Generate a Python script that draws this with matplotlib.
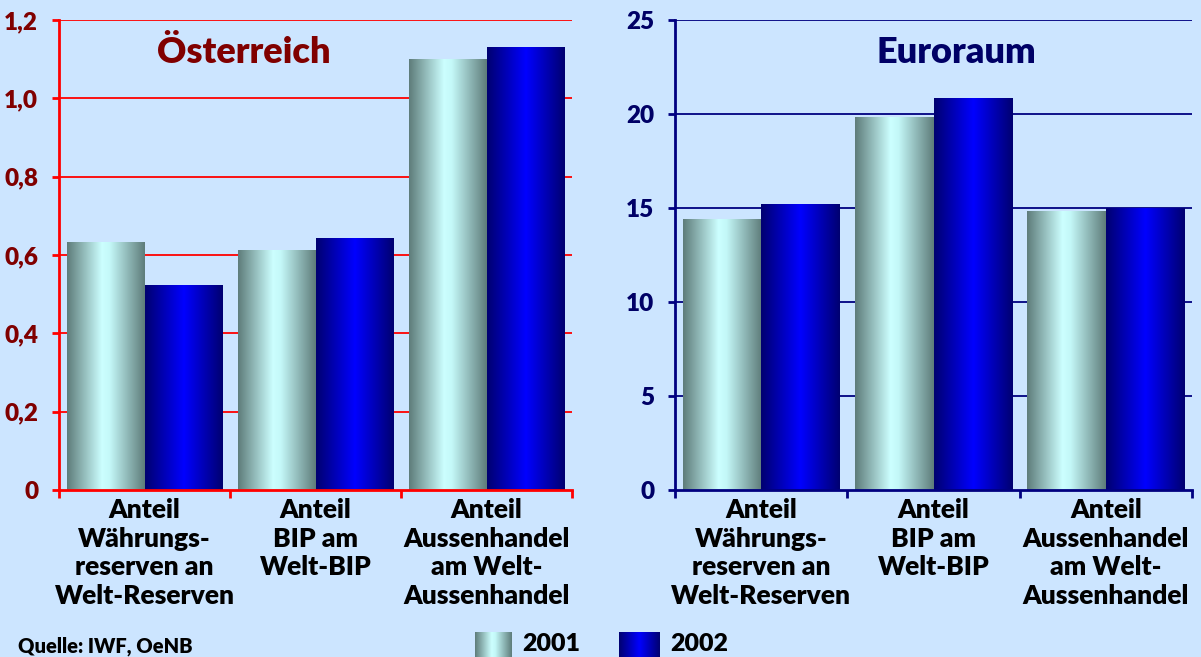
import numpy as np
import matplotlib
matplotlib.use("Agg")
import matplotlib.pyplot as plt
from matplotlib.colors import LinearSegmentedColormap

# ---- data ----
categories = ["Anteil\nWährungs-\nreserven an\nWelt-Reserven",
              "Anteil\nBIP am\nWelt-BIP",
              "Anteil\nAussenhandel\nam Welt-\nAussenhandel"]
series = ["2001", "2002"]
at_2001 = [0.633, 0.612, 1.100]
at_2002 = [0.521, 0.641, 1.131]
ez_2001 = [14.4, 19.8, 14.8]
ez_2002 = [15.2, 20.8, 15.0]
at_ticks = [0, 0.2, 0.4, 0.6, 0.8, 1.0, 1.2]
at_ticklabels = ["0", "0,2", "0,4", "0,6", "0,8", "1,0", "1,2"]
ez_ticks = [0, 5, 10, 15, 20, 25]
ez_ticklabels = ["0", "5", "10", "15", "20", "25"]
source = "Quelle: IWF, OeNB"

BG = "#CCE5FF"
FONT = "Lato"
W = "heavy"
cm_2001 = LinearSegmentedColormap.from_list(
    "c01", [(0, "#5E7C7A"), (0.45, "#CCFFFF"), (0.55, "#C4F8F8"), (1, "#5E7C7A")])
cm_2002 = LinearSegmentedColormap.from_list(
    "c02", [(0, "#000070"), (0.5, "#0000FF"), (1, "#000070")])
grad = np.linspace(0, 1, 256).reshape(1, -1)

fig = plt.figure(figsize=(12.01, 6.57), dpi=100, facecolor=BG)


def panel(rect, v1, v2, ymax, ticks, ticklabels, title, tcolor, gcolor):
    ax = fig.add_axes(rect)
    ax.set_facecolor(BG)
    x = np.arange(len(categories))
    w = 0.456
    b1 = ax.bar(x - w / 2, v1, w, color="none", zorder=3)
    b2 = ax.bar(x + w / 2, v2, w, color="none", zorder=3)
    for bars, cm in ((b1, cm_2001), (b2, cm_2002)):
        for r in bars:
            x0, y0 = r.get_x(), r.get_y()
            ax.imshow(grad, cmap=cm, aspect="auto", zorder=3,
                      extent=(x0, x0 + r.get_width(), y0, y0 + r.get_height()))
    ax.set_xlim(-0.5, len(categories) - 0.5)
    ax.set_ylim(0, ymax)
    ax.set_yticks(ticks)
    ax.set_yticklabels(ticklabels, fontfamily=FONT, fontweight=W,
                       fontsize=17.5, color=tcolor)
    ax.set_xticks(x)
    ax.set_xticklabels(categories, fontfamily=FONT, fontweight=W,
                       fontsize=19, color="black", linespacing=1.22,
                       va="top")
    ax.set_xticks(np.arange(-0.5, len(categories)), minor=True)
    ax.tick_params(axis="x", which="major", length=0, pad=6)
    ax.tick_params(axis="x", which="minor", length=6, width=2, color=gcolor,
                   direction="out")
    ax.tick_params(axis="y", length=5, width=2, color=gcolor, pad=10)
    for t in ticks[1:]:
        ax.axhline(t, color=gcolor, lw=1.3, zorder=1)
    for s in ("top", "right"):
        ax.spines[s].set_visible(False)
    for s in ("left", "bottom"):
        ax.spines[s].set_color(gcolor)
        ax.spines[s].set_linewidth(2)
        ax.spines[s].set_zorder(4)
    ax.text(*title[1], title[0], transform=ax.transAxes, ha="center",
            va="center", fontfamily=FONT, fontweight=W, fontsize=26,
            color=tcolor)
    return ax


panel([59 / 1201, 1 - 490 / 657, 513 / 1201, 470 / 657], at_2001, at_2002,
      1.2, at_ticks, at_ticklabels, ("Österreich", (0.36, 0.93)),
      "#800000", "#FF0000")
panel([675 / 1201, 1 - 490 / 657, 517 / 1201, 470 / 657], ez_2001, ez_2002,
      25, ez_ticks, ez_ticklabels, ("Euroraum", (0.545, 0.93)),
      "#000066", "#000080")

# legend
for (x0, x1), cm, lab, tx in (((475, 512), cm_2001, series[0], 522),
                               ((619, 660), cm_2002, series[1], 670)):
    lax = fig.add_axes([x0 / 1201, 0, (x1 - x0) / 1201, (657 - 632) / 657])
    lax.imshow(grad, cmap=cm, aspect="auto")
    lax.axis("off")
    fig.text(tx / 1201, 1 - 644 / 657, lab, fontfamily=FONT,
             fontweight=W, fontsize=18, va="center", ha="left")

fig.text(18 / 1201, 1 / 657, source, fontfamily=FONT,
         fontweight=W, fontsize=14.5, va="bottom", ha="left")

fig.savefig("out.png", dpi=100, facecolor=BG)
